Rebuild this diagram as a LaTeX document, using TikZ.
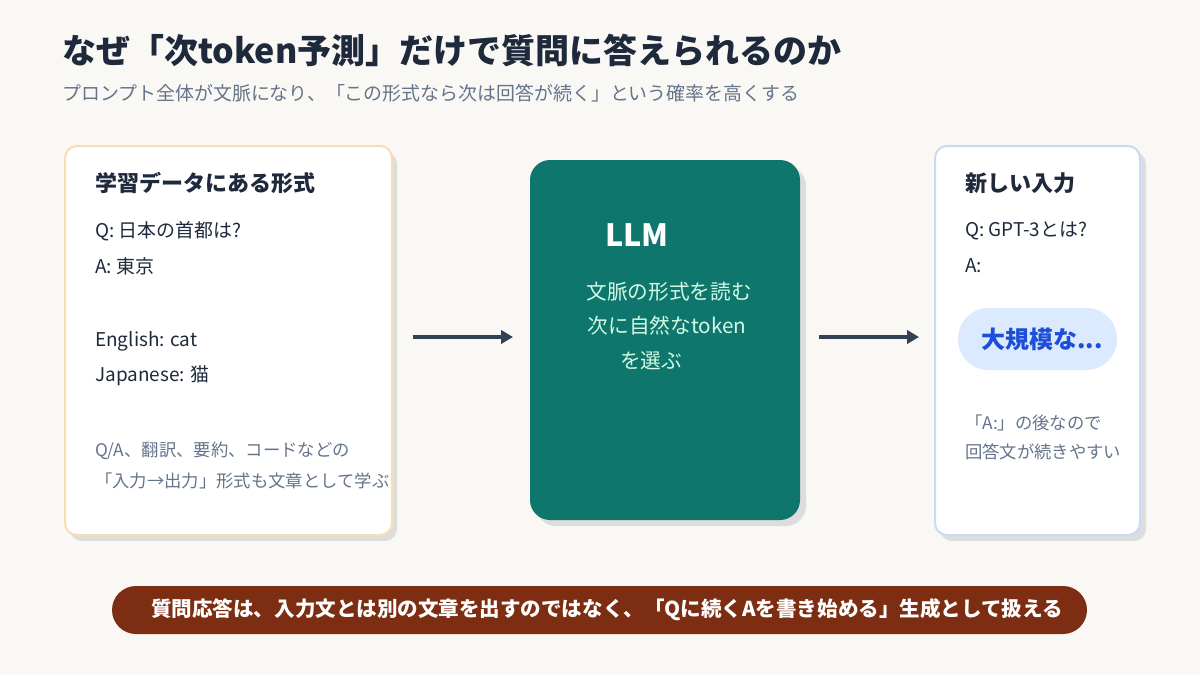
\documentclass[tikz,border=0pt]{standalone}
\usepackage{fontspec}
\setmainfont{Noto Sans CJK JP}
\usetikzlibrary{arrows.meta}
\definecolor{bg}{HTML}{FAF8F4}
\definecolor{ink}{HTML}{1E293B}
\definecolor{sub}{HTML}{64748B}
\definecolor{teal}{HTML}{0F766E}
\definecolor{mint}{HTML}{D1FAE5}
\definecolor{obord}{HTML}{F8DDB5}
\definecolor{bbord}{HTML}{C9DBF3}
\definecolor{pill}{HTML}{DBEAFE}
\definecolor{pilltx}{HTML}{1D4ED8}
\definecolor{rust}{HTML}{7C2D12}
\definecolor{arr}{HTML}{334155}
\definecolor{shad}{HTML}{DDDDDD}
\begin{document}
\begin{tikzpicture}[x=0.75pt,y=-0.75pt,
 txt/.style={anchor=west,inner sep=0,text=ink,font=\fontsize{14.2}{16}\selectfont},
 hd/.style={anchor=west,inner sep=0,text=ink,font=\fontsize{16.5}{19}\selectfont\bfseries},
 note/.style={anchor=west,inner sep=0,text=sub,font=\fontsize{13}{16}\selectfont},
 mid/.style={inner sep=0,text=mint,font=\fontsize{15.5}{18}\selectfont},
 card/.style={fill=white,rounded corners=9pt,line width=1.5pt},
 shd/.style={fill=shad,rounded corners=9pt},
 ar/.style={draw=arr,line width=3pt,-{Triangle[length=9pt,width=10pt]}}]
\fill[bg] (0,0) rectangle (1200,675);
\node[anchor=west,inner sep=0,text=ink,font=\fontsize{25.5}{30}\selectfont\bfseries] (title) at (62,50) {なぜ「次token予測」だけで質問に答えられるのか};
\node[anchor=west,inner sep=0,text=sub,font=\fontsize{14.2}{17}\selectfont] (subt) at (62,93) {プロンプト全体が文脈になり、「この形式なら次は回答が続く」という確率を高くする};
% left card
\fill[shd] (70,152) rectangle (397,541);
\draw[card,draw=obord] (65,146) rectangle (392,535);
\node[hd] (lh) at (95,183) {学習データにある形式};
\node[txt] (l1) at (95,231) {Q: 日本の首都は?};
\node[txt] (l2) at (95,266) {A: 東京};
\node[txt] (l3) at (95,341) {English: cat};
\node[txt] (l4) at (95,376) {Japanese: 猫};
\node[note] (l5) at (95,451) {Q/A、翻訳、要約、コードなどの};
\node[note] (l6) at (95,481) {「入力→出力」形式も文章として学ぶ};
% middle
\fill[shd,rounded corners=15pt] (536,166) rectangle (806,526);
\fill[teal,rounded corners=15pt] (530,160) rectangle (800,520);
\node[anchor=west,inner sep=0,text=white,font=\fontsize{23}{26}\selectfont\bfseries] (llm) at (605,235) {LLM};
\node[mid] (m1) at (669,292) {文脈の形式を読む};
\node[mid] (m2) at (667,326) {次に自然なtoken};
\node[mid] (m3) at (651,361) {を選ぶ};
% right
\fill[shd] (940,152) rectangle (1146,541);
\draw[card,draw=bbord] (935,146) rectangle (1140,535);
\node[hd] (rh) at (965,183) {新しい入力};
\node[txt] (r1) at (965,231) {Q: GPT-3とは?};
\node[txt] (r2) at (965,266) {A:};
\fill[pill,rounded corners=23pt] (958,308) rectangle (1117,370);
\node[inner sep=0,text=pilltx,font=\fontsize{18}{21}\selectfont\bfseries] (pl) at (1042,339) {大規模な...};
\node[note] (r3) at (965,423) {「A:」の後なので};
\node[note] (r4) at (965,452) {回答文が続きやすい};
% arrows
\coordinate (a1) at (413,337); \coordinate (a2) at (513,337);
\coordinate (b1) at (819,337); \coordinate (b2) at (919,337);
\draw[ar] (a1) -- (a2);
\draw[ar] (b1) -- (b2);
% banner
\fill[rust,rounded corners=18pt] (112,586) rectangle (1087,634);
\node[inner sep=0,text=white,font=\fontsize{15.4}{18}\selectfont\bfseries] (bn) at (607,610) {質問応答は、入力文とは別の文章を出すのではなく、「Qに続くAを書き始める」生成として扱える};
\end{tikzpicture}
\end{document}
